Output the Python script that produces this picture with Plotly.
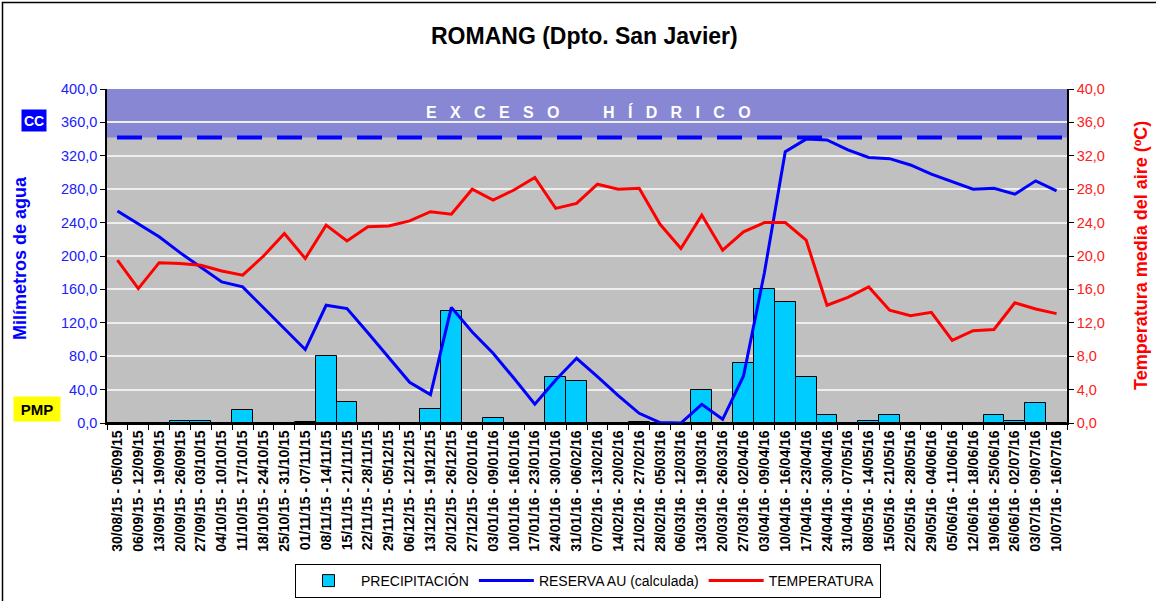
import plotly.graph_objects as go

weeks = [
    "30/08/15 - 05/09/15", "06/09/15 - 12/09/15", "13/09/15 - 19/09/15", "20/09/15 - 26/09/15",
    "27/09/15 - 03/10/15", "04/10/15 - 10/10/15", "11/10/15 - 17/10/15", "18/10/15 - 24/10/15",
    "25/10/15 - 31/10/15", "01/11/15 - 07/11/15", "08/11/15 - 14/11/15", "15/11/15 - 21/11/15",
    "22/11/15 - 28/11/15", "29/11/15 - 05/12/15", "06/12/15 - 12/12/15", "13/12/15 - 19/12/15",
    "20/12/15 - 26/12/15", "27/12/15 - 02/01/16", "03/01/16 - 09/01/16", "10/01/16 - 16/01/16",
    "17/01/16 - 23/01/16", "24/01/16 - 30/01/16", "31/01/16 - 06/02/16", "07/02/16 - 13/02/16",
    "14/02/16 - 20/02/16", "21/02/16 - 27/02/16", "28/02/16 - 05/03/16", "06/03/16 - 12/03/16",
    "13/03/16 - 19/03/16", "20/03/16 - 26/03/16", "27/03/16 - 02/04/16", "03/04/16 - 09/04/16",
    "10/04/16 - 16/04/16", "17/04/16 - 23/04/16", "24/04/16 - 30/04/16", "31/04/16 - 07/05/16",
    "08/05/16 - 14/05/16", "15/05/16 - 21/05/16", "22/05/16 - 28/05/16", "29/05/16 - 04/06/16",
    "05/06/16 - 11/06/16", "12/06/16 - 18/06/16", "19/06/16 - 25/06/16", "26/06/16 - 02/07/16",
    "03/07/16 - 09/07/16", "10/07/16 - 16/07/16",
]

precipitacion = [
    0, 0, 0, 3, 2, 0, 15.5, 0, 0, 1.5, 80, 25, 0, 0, 0, 17, 134.5, 0, 6, 0, 0, 55.5, 50,
    0, 0, 1.5, 0, 0, 40, 0, 72, 160, 144.5, 55.5, 10, 0, 3, 9, 0, 0, 0, 0, 9, 3, 24, 0,
]

reserva = [
    254, 238, 223, 204, 186, 169, 163, 138, 113, 88, 141, 137, 108, 78, 48.7, 34, 138.5,
    109, 83.5, 53.5, 22.5, 51.5, 77.5, 55.5, 32.7, 11.6, 0.5, 0, 22.4, 4.4, 56.3, 180,
    325, 340, 339, 327, 318, 316.6, 309, 298, 289, 280, 281, 274, 290, 278,
]

temperatura = [
    19.5, 16.1, 19.2, 19.1, 18.9, 18.2, 17.7, 20.0, 22.7, 19.7, 23.7, 21.8, 23.5, 23.6,
    24.2, 25.3, 25.0, 28.0, 26.7, 27.9, 29.4, 25.7, 26.3, 28.6, 28.0, 28.1, 23.8, 20.9,
    24.9, 20.7, 22.9, 24.0, 24.0, 21.9, 14.1, 15.05, 16.3, 13.5, 12.85, 13.25, 9.9, 11.05,
    11.2, 14.4, 13.65, 13.1,
]

CC = 342
Y_MAX = 400
T_MAX = 40

FONT = "Arial, Liberation Sans, sans-serif"
W, H = 1156, 601

fig = go.Figure()

fig.add_trace(go.Bar(
    x=weeks, y=precipitacion, name="PRECIPITACIÓN",
    marker=dict(color="#00CCFF", line=dict(color="#000000", width=1)),
))
fig.add_trace(go.Scatter(
    x=weeks, y=reserva, name="RESERVA AU (calculada)", mode="lines",
    line=dict(color="#0000FF", width=3),
))
fig.add_trace(go.Scatter(
    x=weeks, y=temperatura, name="TEMPERATURA", mode="lines", yaxis="y2",
    line=dict(color="#FF0000", width=3),
))

# plot area in page pixels: x 107..1067, y 89..423
def px(xp):
    return (xp - 107) / 960


def py(yp):
    return (423 - yp) / 334


shapes = [
    dict(type="rect", xref="paper", yref="y", x0=0, x1=1, y0=CC, y1=Y_MAX,
         fillcolor="#8787D3", line=dict(width=0), layer="below"),
    dict(type="line", xref="paper", yref="y", x0=px(117), x1=1, y0=CC, y1=CC,
         line=dict(color="#0000FF", width=4, dash="25px,15px"), layer="above"),
    dict(type="rect", xref="paper", yref="paper", x0=px(2.5), x1=px(1170), y0=py(615), y1=py(2.5),
         line=dict(color="#000000", width=1.5), fillcolor="rgba(0,0,0,0)"),
]

sp = "&nbsp;&nbsp;&nbsp;"


def ann(text, x, y, size, color, **kw):
    d = dict(text=text, xref="paper", yref="paper", x=px(x), y=py(y), showarrow=False,
             xanchor="center", yanchor="middle",
             font=dict(size=size, color=color, family=FONT))
    d.update(kw)
    return d


annotations = [
    ann("<b>ROMANG (Dpto. San Javier)</b>", 584, 36, 23, "#000000"),
    ann("<b>Milímetros de agua</b>", 20, 258, 18, "#0000FF", textangle=-90),
    ann("<b>Temperatura media del aire (ºC)</b>", 1141, 256, 18, "#FF0000", textangle=-90),
    ann("<b>" + sp.join("EXCESO") + "</b>", 492, 112, 16, "#FFFFFF"),
    ann("<b>" + sp.join("HÍDRICO") + "</b>", 677, 112, 16, "#FFFFFF"),
    ann("<b>CC</b>", 34, 120, 14, "#FFFFFF", bgcolor="#0000FF", borderpad=2, width=20, height=17),
    ann("<b>PMP</b>", 37, 409, 15, "#000000", bgcolor="#FFFF00", borderpad=2, width=42, height=20),
]

fig.update_layout(
    width=W, height=H,
    margin=dict(l=107, r=89, t=89, b=178),
    paper_bgcolor="#FFFFFF", plot_bgcolor="#C0C0C0",
    separators=",.",
    font=dict(family=FONT, size=13, color="#000000"),
    bargap=0,
    showlegend=True,
    legend=dict(orientation="h", xref="paper", x=px(588), xanchor="center",
                yref="container", y=(H - 598) / H, yanchor="bottom",
                bgcolor="#FFFFFF", bordercolor="#000000", borderwidth=1, itemwidth=55,
                font=dict(size=14, color="#000000"), traceorder="normal"),
    xaxis=dict(
        type="category", tickson="boundaries", ticks="outside", ticklen=5,
        tickcolor="#000000", showline=True, linecolor="#000000", linewidth=1.5,
        showgrid=False, tickangle=-90, automargin=False,
        tickfont=dict(size=14, color="#000000", family=FONT, weight="bold"),
    ),
    yaxis=dict(
        range=[0, Y_MAX], dtick=40, tickformat=".1f", ticks="outside", ticklen=5,
        tickcolor="#000000", showline=True, linecolor="#000000", linewidth=1.5,
        showgrid=True, gridcolor="#EEEEEE", gridwidth=1.5, zeroline=False, automargin=False,
        tickfont=dict(size=14.5, color="#2020FF"),
    ),
    yaxis2=dict(
        range=[0, T_MAX], dtick=4, tickformat=".1f", overlaying="y", side="right",
        ticks="outside", ticklen=5, tickcolor="#000000", showline=True,
        linecolor="#000000", linewidth=1.5, showgrid=False, zeroline=False, automargin=False,
        tickfont=dict(size=14.5, color="#FF2020"),
    ),
    shapes=shapes,
    annotations=annotations,
)

fig.write_html("out.html", config={"displayModeBar": False},
               post_script="document.body.style.margin='0px';")
